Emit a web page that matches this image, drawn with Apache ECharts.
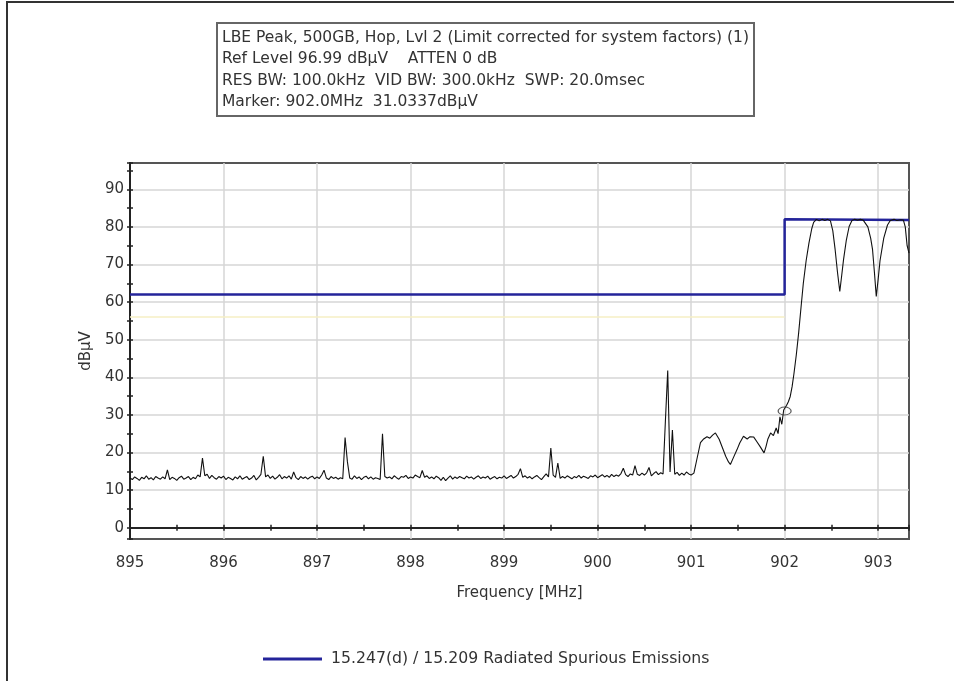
<!DOCTYPE html>
<html>
<head>
<meta charset="utf-8">
<script src="https://cdn.jsdelivr.net/npm/echarts@6/dist/echarts.min.js"></script>
<style>html,body{margin:0;padding:0;background:#fff;}#c{width:954px;height:681px;}</style>
</head>
<body>
<div id="c"></div>
<script>
// ---- Data ----
const titleLines = [
  'LBE Peak, 500GB, Hop, Lvl 2 (Limit corrected for system factors) (1)',
  'Ref Level 96.99 dB\u00b5V    ATTEN 0 dB',
  'RES BW: 100.0kHz  VID BW: 300.0kHz  SWP: 20.0msec',
  'Marker: 902.0MHz  31.0337dB\u00b5V'
];
const limitName = '15.247(d) / 15.209 Radiated Spurious Emissions';
const xTickLabels = ['895','896','897','898','899','900','901','902','903'];

// noise floor trace 895.000 .. 900.975 MHz, one reading per 25 kHz
const noiseStart = 895.0;
const noiseStep = 0.025;
const noiseValues = [
  13.2,12.8,13.5,13.1,12.6,13.4,13.0,13.8,12.9,13.3,
  12.7,13.6,13.2,12.9,13.5,13.0,15.4,12.8,13.4,13.1,
  12.6,13.3,13.7,12.9,13.2,13.6,12.8,13.4,13.0,14.0,
  13.5,18.5,13.8,14.2,13.1,13.9,13.3,12.9,13.6,13.2,
  13.7,12.8,13.4,13.1,12.7,13.5,13.0,13.8,12.9,13.3,
  13.6,12.8,13.2,13.9,12.7,13.4,14.2,19.0,13.5,14.0,
  13.1,13.7,12.9,13.4,14.1,13.0,13.6,13.2,13.8,12.9,
  14.8,13.3,12.8,13.6,13.1,13.5,12.9,13.4,13.7,13.0,
  13.5,13.1,14.0,15.3,13.2,12.8,13.6,13.1,13.4,12.9,
  13.3,13.0,24.0,17.5,13.2,12.9,13.8,13.1,13.5,12.8,
  13.4,13.7,13.0,13.5,12.9,13.3,13.1,12.8,25.0,13.6,
  13.2,13.5,13.0,13.8,13.3,12.9,13.6,13.4,13.9,13.1,
  13.5,13.2,14.0,13.6,13.3,15.2,13.4,13.8,13.1,13.5,
  13.0,13.7,13.3,12.6,13.4,12.5,13.2,13.8,12.9,13.5,
  13.1,13.6,13.3,13.0,13.7,13.2,13.5,12.9,13.4,13.8,
  13.1,13.5,13.2,13.7,12.9,13.3,13.6,13.0,13.4,13.2,
  13.8,13.1,13.5,13.9,13.2,13.6,14.2,15.7,13.4,13.8,
  13.2,13.6,13.0,13.5,13.9,13.3,12.8,13.6,14.3,13.5,
  21.2,14.0,13.4,17.2,13.1,13.6,13.2,13.8,13.4,13.0,
  13.6,13.3,13.9,13.2,13.7,13.4,13.1,13.8,13.5,14.0,
  13.3,13.7,14.1,13.5,13.9,13.4,14.2,13.6,14.0,13.7,
  14.4,15.8,14.1,13.6,14.3,14.0,16.5,14.2,13.9,14.5,
  14.0,14.6,16.0,13.8,14.4,14.9,14.1,14.6,14.3,28.3,
  41.8,14.8,26.0,14.2,14.7,13.9,14.5,14.0,14.8,14.3
];
// in-band / band-edge trace 901.0 .. 903.33 MHz
const bandFreqs = [
  901.00,901.03,901.06,901.10,901.13,901.17,901.20,901.23,901.26,901.30,
  901.33,901.37,901.40,901.42,901.45,901.49,901.52,901.56,901.60,901.63,
  901.67,901.70,901.74,901.78,901.80,901.82,901.85,901.88,901.91,901.93,
  901.95,901.97,901.99,902.00,902.02,902.04,902.06,902.08,902.10,902.125,
  902.15,902.175,902.20,902.23,902.26,902.29,902.31,902.34,902.37,902.40,
  902.43,902.46,902.49,902.515,902.54,902.565,902.59,902.61,902.63,902.66,
  902.69,902.72,902.75,902.78,902.81,902.84,902.86,902.89,902.92,902.94,
  902.96,902.98,903.00,903.02,903.06,903.10,903.13,903.17,903.20,903.24,
  903.27,903.29,903.31,903.33
];
const bandValues = [
  14.0,14.5,18.0,22.6,23.5,24.2,23.8,24.6,25.2,23.5,
  21.6,19.0,17.5,16.8,18.5,20.7,22.5,24.3,23.6,24.2,
  24.1,23.0,21.5,19.9,21.5,23.5,25.2,24.5,26.5,25.0,
  29.5,27.5,31.3,31.0,32.5,33.5,34.9,37.5,41.0,46.0,
  51.8,58.5,65.0,71.0,75.7,79.5,81.2,82.0,81.6,82.0,
  81.7,82.0,81.6,79.0,74.0,68.0,62.8,67.0,71.3,76.5,
  80.1,81.7,82.0,81.8,82.0,81.8,81.7,80.0,77.0,74.0,
  68.0,61.5,66.0,71.0,77.0,80.5,81.7,82.0,81.7,81.9,
  81.8,80.0,75.0,73.0
];
// limit line
const limitFreqs = [895.0, 902.0, 902.0, 903.33];
const limitValues = [62, 62, 82, 81.8];
// faint yellow reference line
const refFreqs = [895.0, 902.0];
const refValues = [56, 56];
// marker
const markerFreq = 902.0;
const markerValue = 31.0337;

// ---- Build ----
const trace = [];
noiseValues.forEach((v, i) => trace.push([+(noiseStart + i * noiseStep).toFixed(3), v]));
bandFreqs.forEach((f, i) => trace.push([f, bandValues[i]]));
const limitData = limitFreqs.map((f, i) => [f, limitValues[i]]);
const refData = refFreqs.map((f, i) => [f, refValues[i]]);

const FONT = 'DejaVu Sans';
const XMIN = 895, XMAX = 903.33, YMIN = -3.01, YMAX = 96.99;

const tickAxisX = (inside) => ({
  type: 'value', position: 'bottom', min: XMIN, max: XMAX, splitNumber: 16,
  axisLine: { show: true, onZero: true, onZeroAxisIndex: 0, lineStyle: { color: '#222', width: 1.5 } },
  axisTick: { show: true, inside: inside, length: 3, lineStyle: { color: '#222', width: 1.5 } },
  axisLabel: { show: false }, splitLine: { show: false }
});
const tickAxisY = (inside) => ({
  type: 'value', position: 'left', min: YMIN, max: YMAX, splitNumber: 20,
  axisLine: { show: true, onZero: false, lineStyle: { color: '#222', width: 1.5 } },
  axisTick: { show: true, inside: inside, length: 3, lineStyle: { color: '#222', width: 1.5 } },
  axisLabel: { show: false }, splitLine: { show: false }
});

const chart = echarts.init(document.getElementById('c'), null, { renderer: 'canvas' });
chart.setOption({
  animation: false,
  backgroundColor: '#ffffff',
  textStyle: { fontFamily: FONT },
  title: {
    text: titleLines.join('\n'),
    left: 217, top: 23,
    padding: [4, 5, 3, 5],
    borderColor: '#666', borderWidth: 2,
    textStyle: { fontFamily: FONT, fontSize: 15.5, fontWeight: 'normal', color: '#333', lineHeight: 21.5 }
  },
  legend: {
    data: [limitName],
    left: 263, top: 651, padding: 0,
    icon: 'rect', itemWidth: 59, itemHeight: 3, itemGap: 10,
    textStyle: { fontFamily: FONT, fontSize: 15.7, color: '#333', padding: [0, 0, 0, 4] }
  },
  grid: { left: 130, top: 163, width: 779, height: 376, show: true, borderColor: '#555', borderWidth: 2, backgroundColor: '#fff' },
  xAxis: [
    {
      type: 'value', position: 'bottom', min: XMIN, max: XMAX, interval: 1,
      name: 'Frequency [MHz]', nameLocation: 'middle', nameGap: 47,
      nameTextStyle: { fontFamily: FONT, fontSize: 15, color: '#333' },
      axisLine: { show: true, onZero: true, onZeroAxisIndex: 0, lineStyle: { color: '#222', width: 1.5 } },
      axisTick: { show: false },
      axisLabel: {
        margin: 17, fontFamily: FONT, fontSize: 15, color: '#333', showMaxLabel: false,
        formatter: (v) => { const s = String(Math.round(v)); return (Math.abs(v - Math.round(v)) < 1e-6 && xTickLabels.indexOf(s) >= 0) ? s : ''; }
      },
      splitLine: { show: true, showMinLine: false, showMaxLine: false, lineStyle: { color: '#d6d6d6', width: 1.5 } }
    },
    tickAxisX(false),
    tickAxisX(true)
  ],
  yAxis: [
    {
      type: 'value', position: 'left', min: YMIN, max: YMAX, splitNumber: 10,
      name: 'dB\u00b5V', nameLocation: 'middle', nameGap: 33,
      nameTextStyle: { fontFamily: FONT, fontSize: 15, color: '#333' },
      axisLine: { show: true, onZero: false, lineStyle: { color: '#222', width: 1.5 } },
      axisTick: { show: false },
      axisLabel: {
        margin: 6, fontFamily: FONT, fontSize: 15, color: '#333', showMinLabel: false, showMaxLabel: false,
        formatter: (v) => (Math.abs(v - Math.round(v)) < 1e-6 && Math.round(v) % 10 === 0) ? String(Math.round(v)) : ''
      },
      splitLine: { show: true, showMinLine: false, showMaxLine: false, lineStyle: { color: '#d6d6d6', width: 1.5 } }
    },
    tickAxisY(false),
    tickAxisY(true)
  ],
  series: [
    {
      name: 'ref', type: 'line', data: refData, showSymbol: false, silent: true,
      lineStyle: { color: '#f6efc4', width: 1.5 }, itemStyle: { color: '#f6efc4' }, z: 1
    },
    {
      name: limitName, type: 'line', data: limitData, showSymbol: false, silent: true,
      lineStyle: { color: '#24249a', width: 2.5 }, itemStyle: { color: '#24249a' }, z: 3
    },
    {
      name: 'trace', type: 'line', data: trace, showSymbol: false, silent: true,
      lineStyle: { color: '#111', width: 1.1 }, itemStyle: { color: '#111' }, z: 4
    },
    {
      name: 'marker', type: 'scatter', data: [[markerFreq, markerValue]], silent: true,
      symbol: 'circle', symbolSize: [13, 8],
      itemStyle: { color: 'rgba(0,0,0,0)', borderColor: '#333', borderWidth: 1 }, z: 5
    }
  ],
  graphic: [
    { type: 'line', shape: { x1: 6, y1: 2, x2: 954, y2: 2 }, style: { stroke: '#333', lineWidth: 2 }, silent: true },
    { type: 'line', shape: { x1: 7, y1: 2, x2: 7, y2: 681 }, style: { stroke: '#333', lineWidth: 2 }, silent: true }
  ]
});
</script>
</body>
</html>
